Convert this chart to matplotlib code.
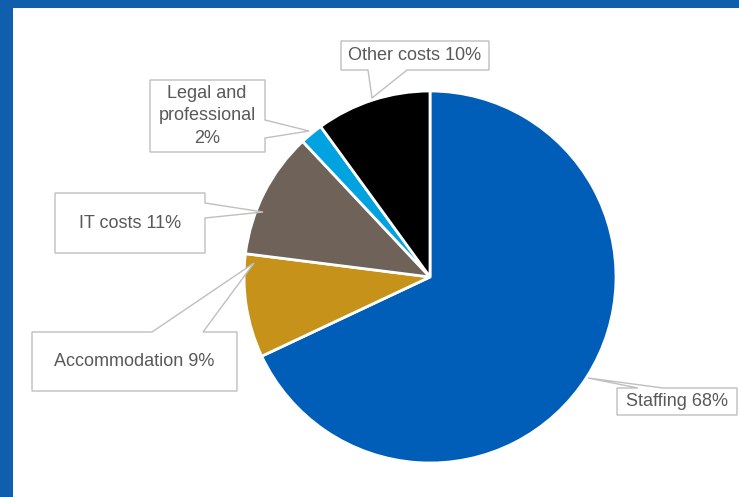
import matplotlib
matplotlib.use('Agg')
import matplotlib.pyplot as plt
from matplotlib.patches import Polygon, Rectangle

plt.rcParams['font.family'] = ['Liberation Sans', 'DejaVu Sans']

# data
categories = ['Staffing', 'Accommodation', 'IT costs', 'Legal and professional', 'Other costs']
shares = [68, 9, 11, 2, 10]
labels = ['Staffing 68%', 'Accommodation 9%', 'IT costs 11%',
          'Legal and\nprofessional\n2%', 'Other costs 10%']
colors = ['#005EB8', '#C6921A', '#6E6259', '#00A3E0', '#000000']

W, H = 739, 497
frame_blue = '#105FAC'

# callout layout in pixel coords (y down): box, tip, side, base, text centre
callouts = [
    ((617, 388, 737, 415), (588, 378), 'top', (638, 663), (677, 402)),
    ((32, 332, 237, 391), (254, 263), 'top', (152, 203), (134, 361)),
    ((55, 193, 205, 253), (263, 212), 'right', (203, 218), (130, 223)),
    ((150, 80, 265, 152), (309, 131), 'right', (120, 138), (207, 116)),
    ((341, 41, 489, 70), (372, 98), 'bottom', (368, 407), (415, 55)),
]

fig = plt.figure(figsize=(W / 100, H / 100), dpi=100)
ax = fig.add_axes([0, 0, 1, 1])

ax.pie(shares, colors=colors, startangle=90, counterclock=False,
       center=(430, H - 277), radius=186, frame=True,
       wedgeprops=dict(edgecolor='white', linewidth=2))


def callout(box, tip, side, base):
    x0, y0, x1, y1 = box
    tl, tr, br, bl = (x0, y0), (x1, y0), (x1, y1), (x0, y1)
    b0, b1 = base
    if side == 'top':
        pts = [tl, (b0, y0), tip, (b1, y0), tr, br, bl]
    elif side == 'right':
        pts = [tl, tr, (x1, b0), tip, (x1, b1), br, bl]
    elif side == 'bottom':
        pts = [tl, tr, br, (b1, y1), tip, (b0, y1), bl]
    else:
        pts = [tl, tr, br, bl, (x0, b1), tip, (x0, b0)]
    pts = [(px, H - py) for px, py in pts]
    ax.add_patch(Polygon(pts, closed=True, facecolor='white',
                         edgecolor='#BFBFBF', linewidth=1.0, zorder=5))


for lab, (box, tip, side, base, tc) in zip(labels, callouts):
    callout(box, tip, side, base)
    ax.text(tc[0], H - tc[1], lab, ha='center', va='center', fontsize=13,
            color='#595959', linespacing=1.4, zorder=6)

ax.set_xlim(0, W)
ax.set_ylim(0, H)
ax.set_aspect('auto')
ax.axis('off')

# blue frame on left and top
fig.patches.append(Rectangle((0, 0), 13 / W, 1, transform=fig.transFigure,
                             facecolor=frame_blue, edgecolor='none', zorder=10))
fig.patches.append(Rectangle((0, 1 - 8 / H), 1, 8 / H, transform=fig.transFigure,
                             facecolor=frame_blue, edgecolor='none', zorder=10))

fig.savefig('out.png', dpi=100)
